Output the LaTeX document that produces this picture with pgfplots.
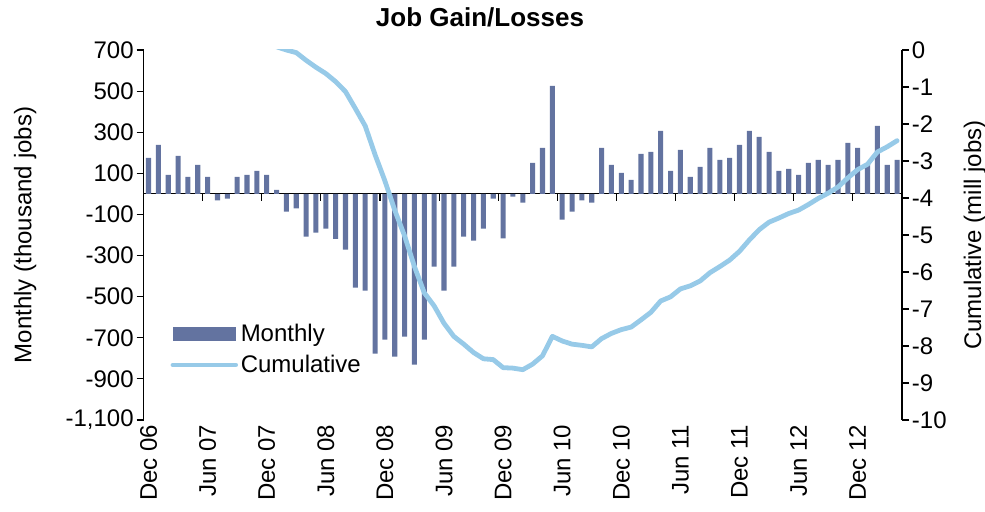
\documentclass[border=0pt]{standalone}
\usepackage{pgfplots}
\pgfplotsset{compat=1.18}
\usepackage{pgfplotstable}
\usepackage{fontspec}
\setmainfont{Liberation Sans}
\definecolor{barcol}{RGB}{99,115,160}
\definecolor{linecol}{RGB}{151,202,232}

\pgfplotstableread{
idx val
0 175
1 238
2 92
3 185
4 83
5 141
6 83
7 -32
8 -23
9 83
10 92
11 112
12 92
13 19
14 -86
15 -71
16 -208
17 -188
18 -169
19 -219
20 -271
21 -456
22 -470
23 -777
24 -709
25 -792
26 -694
27 -830
28 -709
29 -354
30 -470
31 -354
32 -208
33 -227
34 -169
35 -23
36 -217
37 -13
38 -42
39 151
40 224
41 526
42 -125
43 -86
44 -32
45 -42
46 224
47 141
48 102
49 68
50 195
51 204
52 307
53 112
54 214
55 83
56 131
57 224
58 165
59 175
60 238
61 307
62 277
63 204
64 112
65 122
66 92
67 151
68 165
69 141
70 165
71 248
72 224
73 145
74 331
75 141
76 165
}\monthly

\pgfplotstableread{
idx cum
13 0.086
14 0
15 -0.071
16 -0.279
17 -0.467
18 -0.636
19 -0.855
20 -1.126
21 -1.582
22 -2.052
23 -2.829
24 -3.538
25 -4.330
26 -5.024
27 -5.854
28 -6.563
29 -6.917
30 -7.387
31 -7.741
32 -7.949
33 -8.176
34 -8.345
35 -8.368
36 -8.585
37 -8.598
38 -8.640
39 -8.489
40 -8.265
41 -7.739
42 -7.864
43 -7.950
44 -7.982
45 -8.024
46 -7.800
47 -7.659
48 -7.557
49 -7.489
50 -7.294
51 -7.090
52 -6.783
53 -6.671
54 -6.457
55 -6.374
56 -6.243
57 -6.019
58 -5.854
59 -5.679
60 -5.441
61 -5.134
62 -4.857
63 -4.653
64 -4.541
65 -4.419
66 -4.327
67 -4.176
68 -4.011
69 -3.870
70 -3.705
71 -3.457
72 -3.233
73 -3.088
74 -2.757
75 -2.616
76 -2.451
}\cumul

\newcommand{\tfont}{\fontsize{18}{21}\selectfont}

\begin{document}
\begin{tikzpicture}[x=0.75pt,y=0.75pt]
\useasboundingbox (-143.6,-91) rectangle (841.4,420);

\begin{axis}[
  scale only axis, width=568.8pt, height=277.5pt,
  xmin=-0.5, xmax=76.5, ymin=-1100, ymax=700,
  axis x line=middle, axis y line=left,
  axis line style={-, black, line width=0.8pt},
  xtick={5.5,11.5,...,71.5}, xticklabels={},
  xtick align=outside, ytick align=outside,
  major tick length=5.25pt,
  every tick/.style={black, line width=0.8pt},
  ytick={-1100,-900,...,700},
  /pgf/number format/.cd, 1000 sep={,}, assume math mode=true, /pgfplots/.cd,
  tick label style={font=\tfont},
  yticklabel style={inner sep=2pt},
  every axis y label/.style={at={(axis description cs:-0.156,0.5)}, rotate=90, anchor=center, font=\tfont},
  ylabel={Monthly (thousand jobs)},
  title={\textbf{Job Gain/Losses}},
  every axis title/.style={at={(axis description cs:0.4436,1.087)}, anchor=center, font=\fontsize{19.5}{22}\selectfont},
  clip=false,
]
\addplot[ybar, bar width=3.8pt, bar shift=0pt, fill=barcol, draw=none] table[x=idx, y=val] {\monthly};
\end{axis}

\begin{axis}[
  scale only axis, width=568.8pt, height=277.5pt,
  xmin=-0.5, xmax=76.5, ymin=-10, ymax=0,
  axis x line*=bottom, axis y line*=right,
  x axis line style={draw=none},
  y axis line style={-, black, line width=0.8pt},
  xtick={0,6,...,72},
  xticklabels={Dec 06,Jun 07,Dec 07,Jun 08,Dec 08,Jun 09,Dec 09,Jun 10,Dec 10,Jun 11,Dec 11,Jun 12,Dec 12},
  x tick style={draw=none},
  xticklabel style={rotate=90, anchor=east, font=\tfont},
  ytick={-10,-9,...,0},
  ytick align=outside,
  major tick length=5.25pt,
  y tick style={black, line width=0.8pt},
  /pgf/number format/.cd, assume math mode=true, /pgfplots/.cd,
  yticklabel style={font=\tfont, inner sep=2pt},
  every axis y label/.style={at={(axis description cs:1.096,0.5)}, rotate=90, anchor=center, font=\tfont},
  ylabel={Cumulative (mill jobs)},
  legend style={draw=none, fill=none, at={(axis description cs:0.03,0.275)}, anchor=north west, font=\tfont, row sep=5pt},
  legend cell align=left,
]
\addlegendimage{legend image code/.code={\fill[barcol] (0pt,-5pt) rectangle (47pt,5pt);}}
\addlegendentry{Monthly}
\addplot[linecol, line width=3.6pt, line join=round, line cap=round,
  legend image code/.code={\draw[linecol, line width=3.6pt] (0pt,0pt) -- (47pt,0pt);}]
  table[x=idx, y=cum] {\cumul};
\addlegendentry{Cumulative}
\end{axis}
\end{tikzpicture}
\end{document}
